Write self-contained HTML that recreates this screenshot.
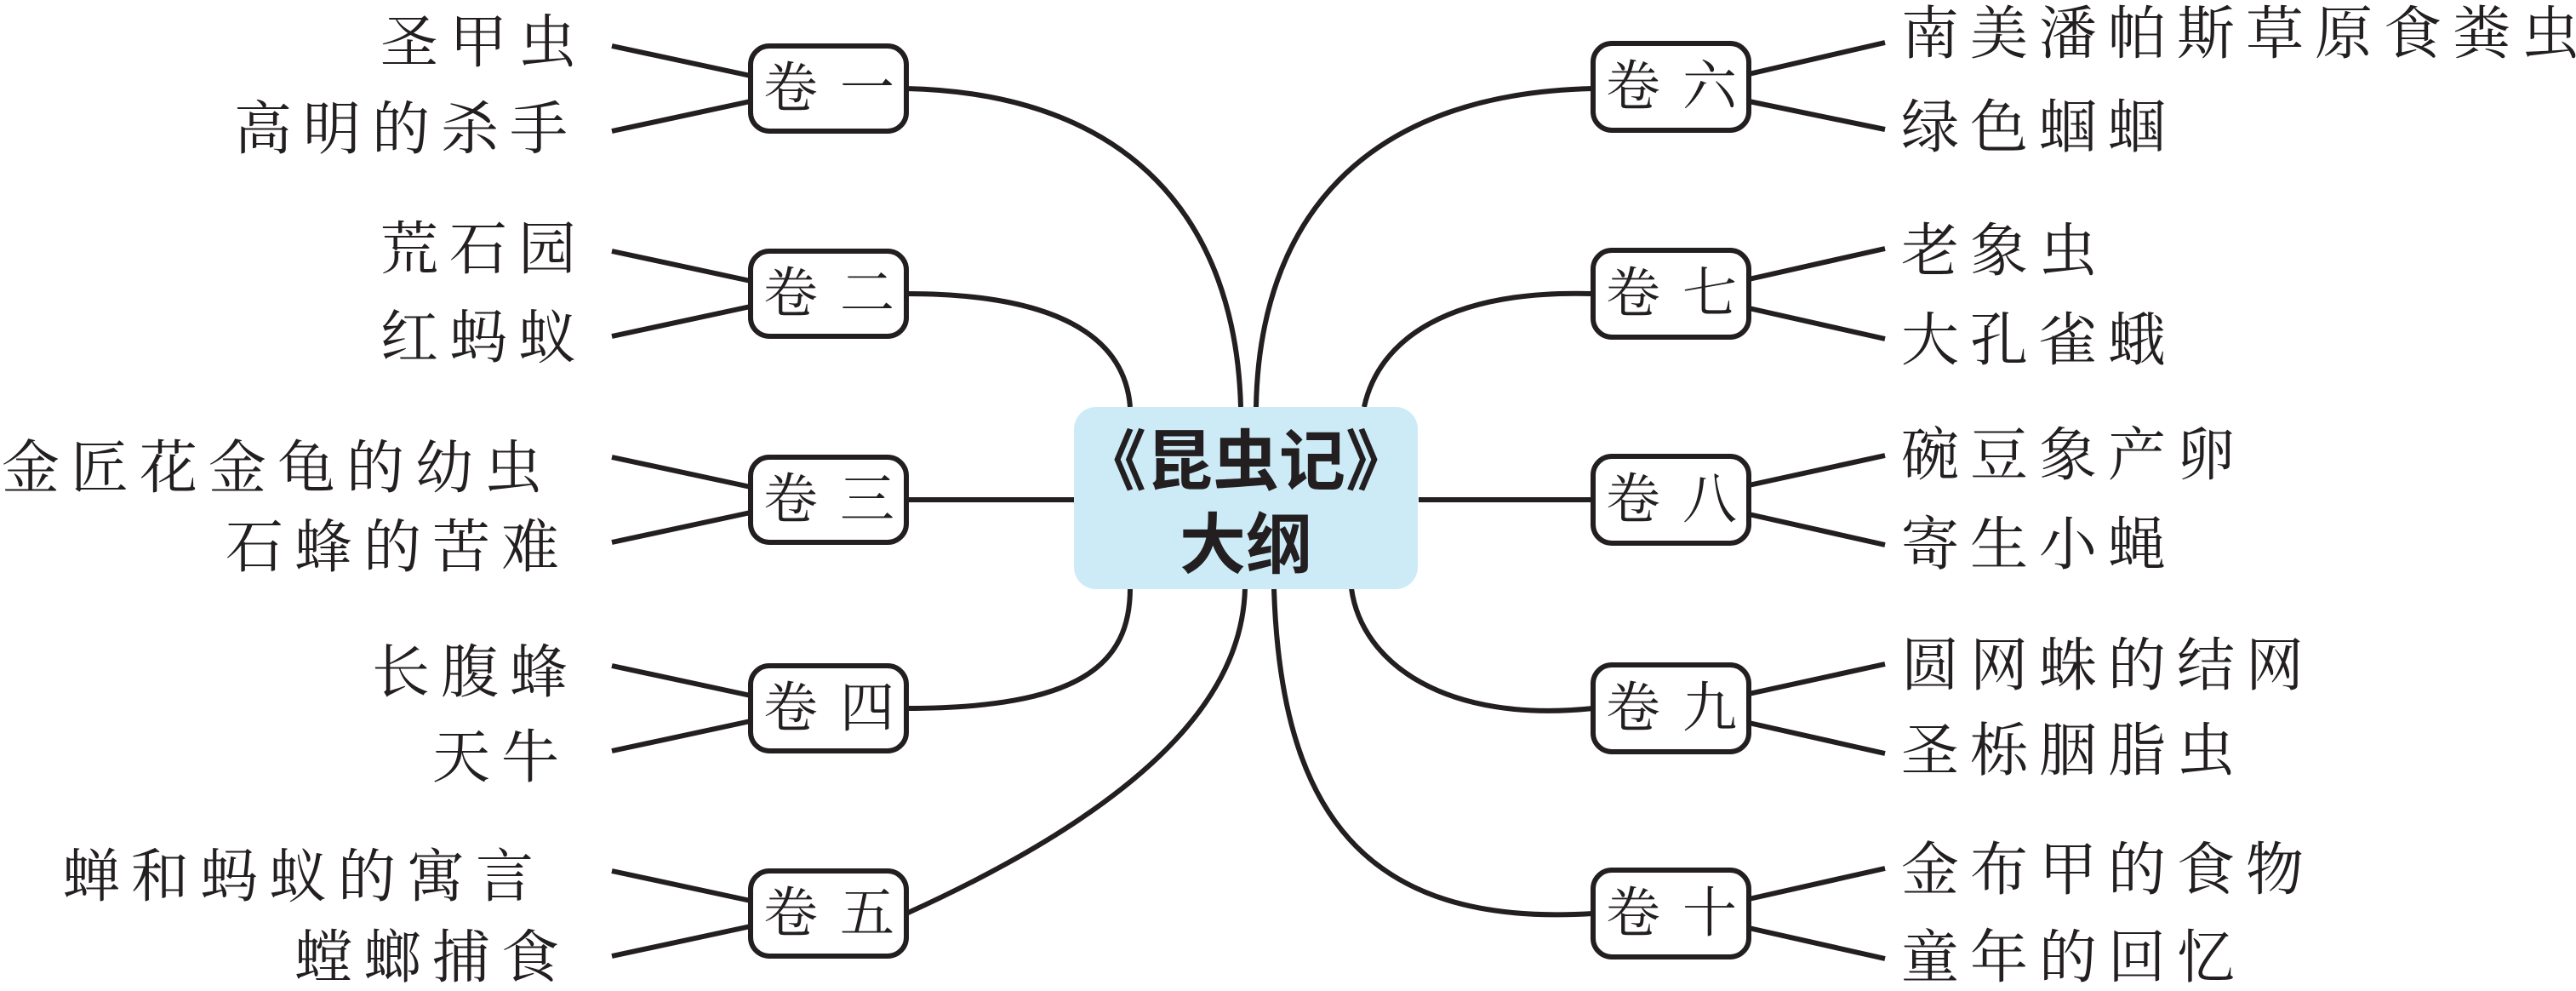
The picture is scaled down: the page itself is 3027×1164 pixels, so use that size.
<!DOCTYPE html>
<html><head><meta charset="utf-8"><style>
html,body{margin:0;padding:0;background:#fff;}
svg{display:block;}
.leaf{font-family:"Liberation Serif","Noto Serif CJK SC",serif;font-size:68px;letter-spacing:13px;fill:#231f20;dominant-baseline:central;}
.node{font-family:"Liberation Serif","Noto Serif CJK SC",serif;font-size:64px;letter-spacing:26px;fill:#231f20;dominant-baseline:central;text-anchor:middle;}
.ctr{font-family:"Liberation Sans","Noto Sans CJK SC",sans-serif;font-size:78px;font-weight:bold;fill:#231f20;dominant-baseline:central;text-anchor:middle;}
</style></head><body>
<svg width="3027" height="1164" viewBox="0 0 3027 1164" xmlns="http://www.w3.org/2000/svg">
<g fill="none" stroke="#231f20" stroke-width="6">
<path d="M719 54 L882 89 M719 154 L882 119"/>
<path d="M719 295 L882 330 M719 395 L882 360"/>
<path d="M719 537 L882 572 M719 637 L882 602"/>
<path d="M719 782 L882 817 M719 882 L882 847"/>
<path d="M719 1023 L882 1058 M719 1123 L882 1088"/>
<path d="M2055 87 L2215 50 M2055 119 L2215 152"/>
<path d="M2055 328 L2215 292 M2055 362 L2215 398"/>
<path d="M2055 570 L2215 535 M2055 604 L2215 640"/>
<path d="M2055 815 L2215 780 M2055 849 L2215 885"/>
<path d="M2055 1056 L2215 1020 M2055 1090 L2215 1126"/>
<path d="M1065 104 C1330 110 1452 260 1458 478"/>
<path d="M1065 345 C1250 345 1322 400 1328 478"/>
<path d="M1065 587 L1264 587"/>
<path d="M1065 832 C1270 832 1328 780 1328 691"/>
<path d="M1065 1073 C1380 930 1460 800 1463 691"/>
<path d="M1872 104 C1600 110 1480 260 1476 478"/>
<path d="M1872 345 C1700 340 1620 400 1603 478"/>
<path d="M1667 587 L1872 587"/>
<path d="M1872 832 C1700 850 1600 780 1588 691"/>
<path d="M1872 1073 C1600 1090 1505 950 1497 691"/>
</g>
<rect x="1262" y="478" width="404" height="214" rx="26" fill="#cdebf7"/>
<text class="ctr" x="1464" y="542">《昆虫记》</text>
<text class="ctr" x="1464" y="640">大纲</text>
<g fill="#fff" stroke="#231f20" stroke-width="6">
<rect x="882" y="54" width="183" height="100" rx="22"/>
<rect x="882" y="295" width="183" height="100" rx="22"/>
<rect x="882" y="537" width="183" height="100" rx="22"/>
<rect x="882" y="782" width="183" height="100" rx="22"/>
<rect x="882" y="1023" width="183" height="100" rx="22"/>
<rect x="1872" y="51" width="183" height="102" rx="22"/>
<rect x="1872" y="294" width="183" height="102" rx="22"/>
<rect x="1872" y="536" width="183" height="102" rx="22"/>
<rect x="1872" y="781" width="183" height="102" rx="22"/>
<rect x="1872" y="1022" width="183" height="102" rx="22"/>
</g>
<text class="node" x="987" y="104">卷一</text>
<text class="node" x="987" y="345">卷二</text>
<text class="node" x="987" y="587">卷三</text>
<text class="node" x="987" y="832">卷四</text>
<text class="node" x="987" y="1073">卷五</text>
<text class="node" x="1977" y="102">卷六</text>
<text class="node" x="1977" y="345">卷七</text>
<text class="node" x="1977" y="587">卷八</text>
<text class="node" x="1977" y="832">卷九</text>
<text class="node" x="1977" y="1073">卷十</text>
<g class="leaf" text-anchor="end">
<text x="690" y="50">圣甲虫</text>
<text x="680" y="152">高明的杀手</text>
<text x="690" y="293">荒石园</text>
<text x="690" y="397">红蚂蚁</text>
<text x="650" y="550">金匠花金龟的幼虫</text>
<text x="670" y="643">石蜂的苦难</text>
<text x="680" y="790">长腹蜂</text>
<text x="670" y="890">天牛</text>
<text x="640" y="1030">蝉和蚂蚁的寓言</text>
<text x="670" y="1125">螳螂捕食</text>
</g>
<g class="leaf" text-anchor="start">
<text x="2234" y="40">南美潘帕斯草原食粪虫</text>
<text x="2234" y="150">绿色蝈蝈</text>
<text x="2234" y="295">老象虫</text>
<text x="2234" y="400">大孔雀蛾</text>
<text x="2234" y="535">碗豆象产卵</text>
<text x="2234" y="640">寄生小蝇</text>
<text x="2234" y="782">圆网蛛的结网</text>
<text x="2234" y="882">圣栎胭脂虫</text>
<text x="2234" y="1022">金布甲的食物</text>
<text x="2234" y="1125">童年的回忆</text>
</g>
</svg>
</body></html>
